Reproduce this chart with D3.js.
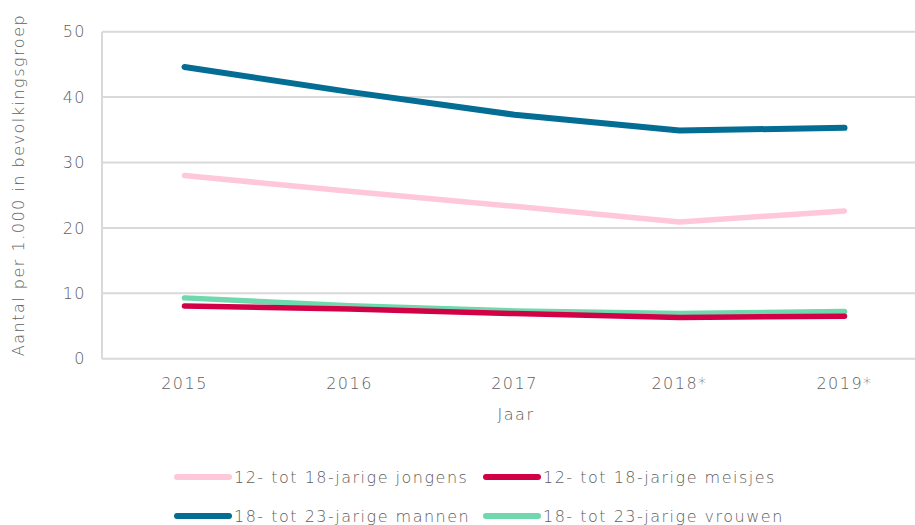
<!DOCTYPE html>
<html><head><meta charset="utf-8">
<script src="https://cdn.jsdelivr.net/npm/d3@7"></script>
<style>body{margin:0;background:#fff}svg text{font-family:"DejaVu Sans",sans-serif;font-weight:200;fill:#606060;letter-spacing:1.5px}</style>
</head><body>
<svg id="c" width="915" height="525"></svg>
<script>
const years = ["2015","2016","2017","2018*","2019*"];
const jongens = [28.0, 25.6, 23.3, 20.9, 22.6];
const meisjes = [8.05, 7.6, 6.9, 6.3, 6.5];
const mannen = [44.6, 40.8, 37.3, 34.9, 35.3];
const vrouwen = [9.3, 8.1, 7.3, 6.9, 7.2];
const yTicks = [0,10,20,30,40,50];
const seriesNames = ["12- tot 18-jarige jongens","12- tot 18-jarige meisjes","18- tot 23-jarige mannen","18- tot 23-jarige vrouwen"];
const colors = ["#ffc8da","#d20046","#036d94","#6fd8ad"];
const series = [jongens, meisjes, mannen, vrouwen];

const svg = d3.select("#c");
const x = d3.scaleBand().domain(years).range([102, 927]);
const y = d3.scaleLinear().domain([0,50]).range([358.7, 31.7]);

svg.append("g").selectAll("line").data(yTicks).join("line")
  .attr("x1",102).attr("x2",915).attr("y1",d=>y(d)).attr("y2",d=>y(d))
  .attr("stroke","#d9d9d9").attr("stroke-width",2);
svg.append("line").attr("x1",102).attr("x2",102).attr("y1",y(50)).attr("y2",y(0))
  .attr("stroke","#d9d9d9").attr("stroke-width",2);

const fs = 16;
svg.append("g").selectAll("text").data(yTicks).join("text")
  .attr("x",86).attr("y",d=>y(d)).attr("dy","0.36em").attr("text-anchor","end")
  .attr("font-size",fs).text(d=>d);
svg.append("g").selectAll("text").data(years).join("text")
  .attr("x",d=>x(d)+x.bandwidth()/2).attr("y",389).attr("text-anchor","middle")
  .attr("font-size",fs).text(d=>d);
svg.append("text").attr("x",516).attr("y",420).attr("text-anchor","middle").attr("font-size",fs).text("Jaar");
svg.append("text").attr("transform","translate(24,185) rotate(-90)").attr("text-anchor","middle")
  .attr("font-size",fs).text("Aantal per 1.000 in bevolkingsgroep");

const line = d3.line().x((d,i)=>x(years[i])+x.bandwidth()/2).y(d=>y(d));
[0,3,1,2].forEach(k=>{
  svg.append("path").attr("d",line(series[k])).attr("fill","none")
    .attr("stroke",colors[k]).attr("stroke-width",k===2?6:5.5)
    .attr("stroke-linecap","round").attr("stroke-linejoin","round");
});

const lx = [177,486], ly = [477,516];
seriesNames.forEach((n,i)=>{
  const cx = lx[i%2], cy = ly[Math.floor(i/2)];
  svg.append("line").attr("x1",cx).attr("x2",cx+52).attr("y1",cy).attr("y2",cy)
    .attr("stroke",colors[i]).attr("stroke-width",6).attr("stroke-linecap","round");
  svg.append("text").attr("x",cx+57).attr("y",cy).attr("dy","0.36em").attr("font-size",fs).text(n);
});
</script>
</body></html>
